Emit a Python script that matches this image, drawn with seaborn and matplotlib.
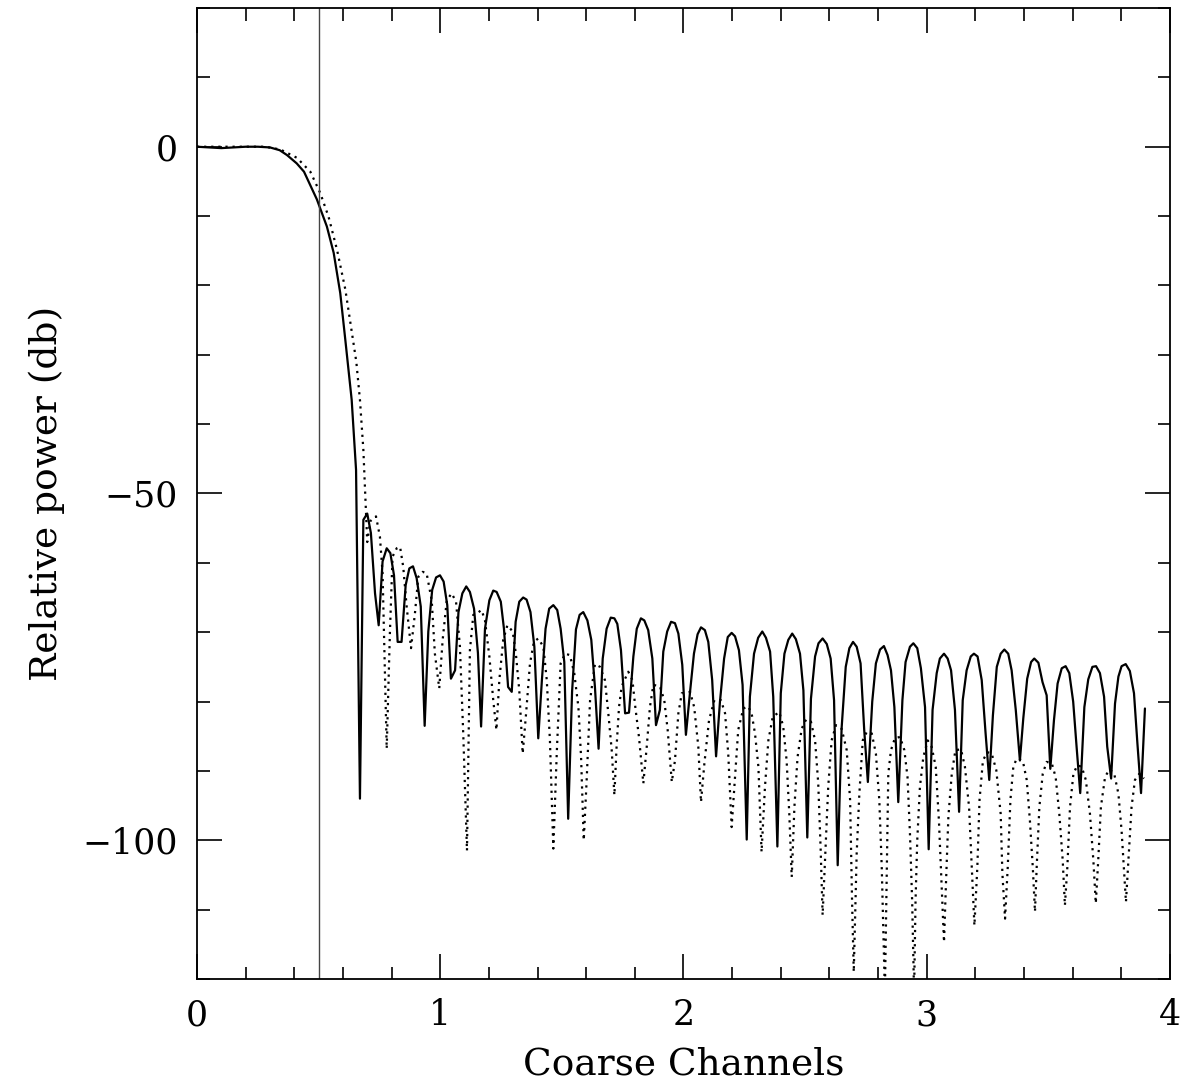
import numpy as np
import seaborn as sns
import matplotlib.pyplot as plt

# filter response (x in coarse channels, y in dB)
solid_x = [0.0, 0.05, 0.10, 0.15, 0.20, 0.25, 0.30, 0.34, 0.37, 0.41, 0.44, 0.493, 0.534, 0.562, 0.589, 0.610, 0.636, 0.654,
           0.670, 0.684, 0.700, 0.715, 0.732, 0.747, 0.763, 0.780, 0.795, 0.810, 0.825, 0.841, 0.858, 0.873, 0.888,
           0.903, 0.920, 0.936, 0.951, 0.967, 0.983, 0.999, 1.014, 1.029, 1.044, 1.061, 1.075, 1.091, 1.107, 1.122,
           1.139, 1.155, 1.168, 1.184, 1.202, 1.218, 1.232, 1.249, 1.262, 1.279, 1.294, 1.310, 1.325, 1.341, 1.355,
           1.371, 1.387, 1.403, 1.418, 1.433, 1.448, 1.465, 1.481, 1.495, 1.510, 1.526, 1.542, 1.558, 1.573, 1.588,
           1.605, 1.621, 1.636, 1.651, 1.668, 1.684, 1.701, 1.716, 1.728, 1.743, 1.760, 1.776, 1.794, 1.808, 1.825,
           1.839, 1.855, 1.872, 1.887, 1.903, 1.917, 1.933, 1.949, 1.965, 1.979, 1.995, 2.010, 2.027, 2.043, 2.058,
           2.072, 2.088, 2.102, 2.118, 2.134, 2.150, 2.167, 2.182, 2.198, 2.212, 2.228, 2.243, 2.260, 2.273, 2.290,
           2.307, 2.324, 2.339, 2.356, 2.369, 2.386, 2.400, 2.415, 2.431, 2.447, 2.462, 2.479, 2.493, 2.509, 2.524,
           2.541, 2.555, 2.572, 2.589, 2.605, 2.619, 2.634, 2.650, 2.667, 2.682, 2.697, 2.712, 2.728, 2.743, 2.758,
           2.776, 2.791, 2.808, 2.824, 2.839, 2.853, 2.867, 2.883, 2.900, 2.913, 2.931, 2.945, 2.961, 2.976, 2.993,
           3.008, 3.024, 3.041, 3.054, 3.071, 3.086, 3.100, 3.116, 3.133, 3.148, 3.164, 3.181, 3.194, 3.209, 3.226,
           3.242, 3.257, 3.272, 3.288, 3.304, 3.319, 3.335, 3.349, 3.366, 3.383, 3.397, 3.413, 3.429, 3.442, 3.459,
           3.476, 3.493, 3.508, 3.523, 3.538, 3.555, 3.571, 3.586, 3.602, 3.616, 3.631, 3.648, 3.664, 3.681, 3.696,
           3.712, 3.729, 3.742, 3.758, 3.774, 3.788, 3.801, 3.818, 3.835, 3.852, 3.866, 3.881, 3.897]
solid_db = [0.0, -0.1, -0.2, -0.1, 0.0, 0.0, -0.1, -0.5, -1.2, -2.4, -3.6, -7.6, -11.5, -15.3, -21.1, -27.9, -36.5, -46.6,
            -94.0, -53.8, -52.9, -55.7, -64.4, -69.0, -59.8, -57.9, -58.6, -61.8, -71.4, -71.4, -63.2, -60.8, -60.5,
            -62.2, -66.3, -83.5, -69.9, -63.9, -62.1, -61.8, -62.7, -66.1, -76.7, -75.5, -67.1, -64.4, -63.4, -64.2,
            -66.6, -73.0, -83.6, -69.5, -65.4, -64.0, -64.2, -65.6, -69.5, -77.9, -78.6, -68.5, -65.6, -65.0, -65.3,
            -67.1, -72.1, -85.3, -76.9, -69.5, -66.6, -66.1, -66.8, -69.5, -74.3, -96.9, -78.6, -69.6, -67.5, -67.1,
            -68.3, -71.1, -77.9, -86.8, -73.8, -69.5, -67.9, -68.0, -68.8, -72.6, -81.7, -81.6, -73.5, -69.5, -68.0,
            -68.3, -69.7, -73.8, -83.4, -81.2, -72.8, -69.9, -68.5, -68.7, -70.2, -74.7, -84.8, -78.6, -73.1, -70.3,
            -69.3, -69.7, -71.4, -76.9, -87.9, -80.0, -73.8, -70.7, -70.1, -70.6, -72.6, -77.6, -99.9, -79.3, -73.1,
            -70.8, -69.9, -70.8, -72.8, -79.3, -100.9, -78.8, -73.1, -71.1, -70.2, -71.0, -73.1, -78.4, -99.6, -79.6,
            -73.5, -71.6, -70.9, -71.7, -73.8, -79.8, -103.6, -83.9, -75.0, -72.3, -71.4, -72.1, -74.5, -84.1, -91.6,
            -80.0, -74.5, -72.5, -72.0, -73.3, -75.5, -80.8, -94.5, -79.8, -74.3, -72.1, -71.6, -72.3, -75.2, -80.8,
            -101.3, -81.2, -75.9, -73.8, -73.1, -73.8, -75.5, -81.2, -95.9, -79.8, -75.5, -73.5, -73.1, -73.5, -76.9,
            -84.6, -91.3, -82.0, -75.0, -73.1, -72.5, -73.1, -75.5, -81.2, -88.5, -82.4, -76.7, -74.3, -73.8, -74.4,
            -77.2, -79.1, -89.7, -82.7, -77.4, -75.2, -74.9, -75.9, -80.0, -86.5, -93.2, -80.8, -76.8, -75.0, -74.9,
            -75.9, -79.3, -86.5, -91.1, -80.3, -76.4, -74.9, -74.6, -75.6, -78.8, -86.0, -93.2, -81.0]

dotted_x = [0.0, 0.10, 0.20, 0.28, 0.343, 0.411, 0.466, 0.507, 0.541, 0.576, 0.610, 0.637, 0.655, 0.670, 0.684,
            0.693, 0.700, 0.712, 0.736, 0.752, 0.763, 0.780, 0.793, 0.804, 0.821, 0.835, 0.848, 0.862, 0.880, 0.896,
            0.910, 0.928, 0.944, 0.965, 0.978, 0.996, 1.010, 1.027, 1.047, 1.065, 1.081, 1.095, 1.110, 1.122, 1.136,
            1.150, 1.170, 1.184, 1.202, 1.218, 1.231, 1.243, 1.259, 1.276, 1.298, 1.311, 1.325, 1.339, 1.353, 1.369,
            1.385, 1.403, 1.424, 1.438, 1.451, 1.465, 1.479, 1.495, 1.513, 1.533, 1.551, 1.568, 1.579, 1.590, 1.602,
            1.616, 1.636, 1.657, 1.677, 1.691, 1.705, 1.716, 1.725, 1.735, 1.746, 1.773, 1.790, 1.802, 1.817, 1.835,
            1.849, 1.862, 1.876, 1.903, 1.921, 1.935, 1.952, 1.965, 1.979, 1.993, 2.027, 2.044, 2.061, 2.072, 2.086,
            2.105, 2.127, 2.154, 2.171, 2.184, 2.198, 2.209, 2.225, 2.246, 2.266, 2.280, 2.294, 2.308, 2.321, 2.335,
            2.349, 2.367, 2.394, 2.410, 2.424, 2.435, 2.445, 2.456, 2.469, 2.486, 2.504, 2.524, 2.541, 2.554, 2.564,
            2.572, 2.582, 2.595, 2.609, 2.627, 2.650, 2.671, 2.685, 2.693, 2.700, 2.712, 2.723, 2.737, 2.753, 2.774,
            2.791, 2.805, 2.815, 2.828, 2.842, 2.853, 2.869, 2.890, 2.908, 2.921, 2.931, 2.940, 2.948, 2.954, 2.961,
            2.972, 2.986, 3.004, 3.020, 3.037, 3.050, 3.061, 3.071, 3.079, 3.089, 3.103, 3.118, 3.141, 3.157, 3.174,
            3.185, 3.196, 3.208, 3.217, 3.231, 3.249, 3.267, 3.286, 3.304, 3.311, 3.322, 3.333, 3.344, 3.356, 3.370,
            3.383, 3.397, 3.411, 3.424, 3.436, 3.445, 3.452, 3.463, 3.477, 3.493, 3.514, 3.530, 3.545, 3.559, 3.568,
            3.578, 3.589, 3.603, 3.619, 3.637, 3.654, 3.671, 3.685, 3.695, 3.705, 3.716, 3.733, 3.750, 3.770, 3.788,
            3.801, 3.811, 3.819, 3.829, 3.842, 3.856, 3.874, 3.893]
dotted_db = [0.0, 0.0, 0.0, 0.0, -0.4, -1.6, -3.6, -6.7, -10.1, -14.9, -20.6, -26.9, -31.0, -36.5, -43.7,
             -51.0, -57.0, -54.0, -53.3, -56.2, -61.5, -86.8, -70.2, -59.1, -57.9, -57.7, -60.6, -66.3, -72.3, -67.3,
             -62.0, -61.3, -61.5, -65.4, -73.1, -78.1, -71.1, -65.4, -64.4, -65.6, -72.1, -85.0, -101.5, -72.6, -67.5,
             -67.3, -66.8, -68.3, -73.5, -79.8, -84.1, -76.9, -71.1, -69.0, -69.9, -73.1, -78.4, -87.5, -81.7, -74.5,
             -71.4, -70.9, -72.1, -76.9, -85.6, -101.2, -87.5, -74.5, -73.1, -73.3, -75.9, -80.8, -88.0, -100.0, -91.3,
             -79.8, -74.6, -75.0, -76.9, -81.7, -87.0, -93.5, -86.5, -80.8, -77.8, -75.7, -76.9, -80.8, -85.1, -91.8,
             -86.5, -80.8, -77.6, -77.8, -79.8, -84.1, -91.6, -88.5, -81.7, -78.8, -78.6, -80.8, -86.5, -94.5, -88.9,
             -82.7, -79.8, -79.8, -81.7, -87.5, -98.1, -92.3, -84.1, -81.0, -80.7, -81.7, -84.6, -89.4, -101.7, -92.3,
             -85.6, -82.2, -81.5, -83.6, -88.5, -96.2, -105.3, -95.2, -88.0, -83.9, -82.6, -82.9, -85.6, -91.8, -101.4,
             -110.8, -102.9, -92.3, -85.6, -83.4, -83.9, -87.0, -94.2, -108.7, -119.0, -101.9, -93.3, -85.6, -84.4, -84.6,
             -87.5, -94.2, -103.8, -122.0, -90.4, -87.0, -85.3, -85.1, -87.0, -90.9, -99.0, -108.7, -122.0, -108.7, -100.0,
             -92.3, -88.0, -85.6, -86.5, -89.4, -97.1, -106.3, -114.7, -106.3, -96.6, -90.4, -87.0, -86.9, -89.4, -95.2,
             -103.9, -112.3, -103.9, -94.2, -88.5, -87.3, -87.5, -89.9, -96.2, -104.8, -111.3, -103.9, -94.2, -89.4, -88.2,
             -88.3, -88.9, -91.3, -97.1, -103.9, -110.3, -103.9, -95.2, -90.4, -88.7, -88.9, -90.9, -96.2, -102.9, -109.4,
             -103.9, -95.2, -90.4, -89.2, -89.4, -91.3, -96.2, -102.9, -109.1, -102.9, -95.2, -90.9, -89.8, -90.3, -93.3,
             -98.6, -104.3, -108.9, -102.9, -95.2, -91.3, -90.4, -91.1]

cutoff = 0.5

sns.set_style("ticks")
plt.rcParams['font.family'] = ['DejaVu Serif']
plt.rcParams['axes.linewidth'] = 1.3
for key in ['text.color', 'axes.labelcolor', 'xtick.color', 'ytick.color', 'axes.edgecolor']:
    plt.rcParams[key] = 'black'

fig = plt.figure(figsize=(11.83, 10.84), dpi=100)
ax = fig.add_axes([0.1665, 0.0969, 0.8225, 0.8957])

sns.lineplot(x=solid_x, y=solid_db, color="black", lw=1.6, estimator=None, sort=False, ax=ax)
sns.lineplot(x=dotted_x, y=dotted_db, color="black", lw=1.6, linestyle=(0, (1, 2.2)),
             estimator=None, sort=False, ax=ax)
ax.axvline(cutoff, color="#444444", lw=1.0)

ax.set_xlim(0, 4)
ax.set_ylim(-120, 20)
ax.set_xticks([0, 1, 2, 3, 4])
ax.set_xticks(np.arange(0, 4.01, 0.2), minor=True)
ax.set_yticks([-100, -50, 0])
ax.set_yticks(np.arange(-120, 21, 10), minor=True)
ax.set_yticklabels(["\u2212100", "\u221250", "0"])
ax.tick_params(which="both", direction="in", top=True, right=True, width=1.2)
ax.tick_params(which="major", length=18, labelsize=25, pad=14)
ax.tick_params(which="minor", length=9)

ax.set_xlabel("Coarse Channels", fontsize=27, labelpad=10)
ax.set_ylabel("Relative power (db)", fontsize=27, labelpad=12)

plt.savefig("out.png", dpi=100)
